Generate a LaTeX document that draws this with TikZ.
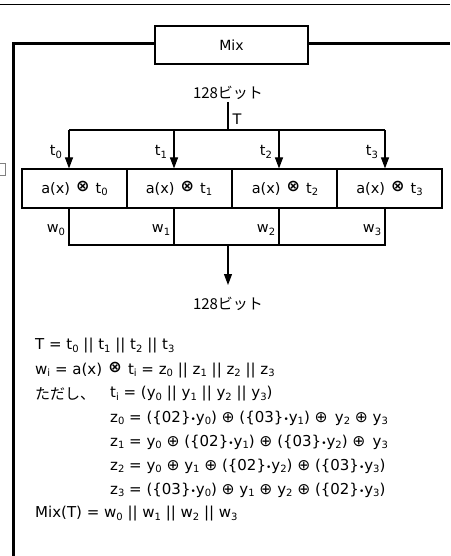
\documentclass[tikz,border=0pt]{standalone}
\usepackage{fontspec}
\setmainfont{DejaVu Sans}
\newfontfamily\jp{Noto Sans CJK JP}
\newfontfamily\symf{DejaVu Sans}
\usetikzlibrary{arrows.meta}
\newcommand\mysub[1]{\raisebox{-0.3ex}{\fontsize{10}{10}\selectfont #1}}
\newcommand\otm{\hspace{1.5pt}\raisebox{2pt}{\symf\bfseries\fontsize{16}{16}\selectfont ⊗}\hspace{1.5pt}}
\newcommand\opl{{\symf\fontsize{15.5}{16}\selectfont ⊕}}
\newcommand\mdot{{\fontsize{9}{9}\selectfont •}}
\tikzset{
  frame/.style={line width=3pt},
  thin/.style={line width=1.1pt},
  boxn/.style={draw, line width=1.1pt, minimum height=39pt, inner sep=0pt, font=\fontsize{14.5}{16}\selectfont},
  arr/.style={line width=1.1pt, -{Triangle[width=8pt,length=11pt]}},
  lbl/.style={inner sep=0pt, font=\fontsize{14.5}{16}\selectfont},
  jlbl/.style={inner sep=0pt, font=\jp\fontsize{15}{16}\selectfont},
  txt/.style={inner sep=0pt, anchor=west, font=\fontsize{15}{16}\selectfont},
}
\begin{document}
\begin{tikzpicture}[x=1pt,y=-1pt]
\useasboundingbox (0,0) rectangle (450,556);
% top thin rule
\coordinate (tl) at (0,4.5);
\coordinate (tr) at (450,4.5);
\draw[thin] (tl) -- (tr);
% left fragment
\draw[line width=0.8pt, gray] (0,163.5) -- (5.5,163.5) -- (5.5,175.5) -- (0,175.5);
% Mix box and frame
\node[boxn, minimum width=153pt, minimum height=38pt, font=\fontsize{14}{16}\selectfont] (mix) at (231.5,45) {Mix};
\coordinate (fl) at (13,556);
\coordinate (fc) at (13,43.5);
\coordinate (fr) at (450,43.5);
\draw[frame] (fl) -- (fc) -- (fc -| mix.west);
\draw[frame] (fr -| mix.east) -- (fr);
% input
\node[jlbl] (in) at (228,93) {128ビット};
\coordinate (bus) at (228,130);
\coordinate (ins) at (228,102);
\draw[thin] (ins) -- (bus);
\node[lbl] (T) at (237,119) {T};
% boxes
\node[boxn, minimum width=105pt] (b0) at (74.5,188.5) {a(x) \otm{} t\mysub{0}};
\node[boxn, minimum width=105pt] (b1) at (179,188.5) {a(x) \otm{} t\mysub{1}};
\node[boxn, minimum width=105pt] (b2) at (285,188.5) {a(x) \otm{} t\mysub{2}};
\node[boxn, minimum width=105pt] (b3) at (389.5,188.5) {a(x) \otm{} t\mysub{3}};
% bus and arrows
\coordinate (a0) at (69,130);
\coordinate (a1) at (174,130);
\coordinate (a2) at (279,130);
\coordinate (a3) at (385,130);
\draw[thin] (a0) -- (a3);
\draw[arr] (a0) -- (a0 |- b0.north);
\draw[arr] (a1) -- (a1 |- b1.north);
\draw[arr] (a2) -- (a2 |- b2.north);
\draw[arr] (a3) -- (a3 |- b3.north);
\node[lbl] (t0) at (56,152) {t\mysub{0}};
\node[lbl] (t1) at (161,152) {t\mysub{1}};
\node[lbl] (t2) at (266,152) {t\mysub{2}};
\node[lbl] (t3) at (372,152) {t\mysub{3}};
% outputs
\coordinate (m0) at (69,245);
\coordinate (m1) at (174,245);
\coordinate (m2) at (279,245);
\coordinate (m3) at (385,245);
\draw[thin] (a0 |- b0.south) -- (m0) -- (m3) -- (a3 |- b3.south);
\draw[thin] (a1 |- b1.south) -- (m1);
\draw[thin] (a2 |- b2.south) -- (m2);
\node[lbl] (w0) at (56,230) {w\mysub{0}};
\node[lbl] (w1) at (161,230) {w\mysub{1}};
\node[lbl] (w2) at (266,230) {w\mysub{2}};
\node[lbl] (w3) at (372,230) {w\mysub{3}};
\coordinate (mo) at (228,245);
\coordinate (oe) at (228,285);
\node[jlbl] (out) at (228,304) {128ビット};
\draw[arr] (mo) -- (oe);
% equations
\node[txt] (e1) at (35,346) {T = t\mysub{0} || t\mysub{1} || t\mysub{2} || t\mysub{3}};
\node[txt] (e2) at (35,370) {w\mysub{i} = a(x) \otm{} t\mysub{i} = z\mysub{0} || z\mysub{1} || z\mysub{2} || z\mysub{3}};
\node[txt, font=\jp\fontsize{15}{16}\selectfont] (e3) at (35,394) {ただし、};
\node[txt] (e3b) at (110,394) {t\mysub{i} = (y\mysub{0} || y\mysub{1} || y\mysub{2} || y\mysub{3})};
\node[txt] (e4) at (110,418) {z\mysub{0} = (\{02\}\mdot y\mysub{0}) \opl{} (\{03\}\mdot y\mysub{1}) \opl{}\, y\mysub{2} \opl{} y\mysub{3}};
\node[txt] (e5) at (110,442) {z\mysub{1} = y\mysub{0} \opl{} (\{02\}\mdot y\mysub{1}) \opl{} (\{03\}\mdot y\mysub{2}) \opl{}\, y\mysub{3}};
\node[txt] (e6) at (110,466) {z\mysub{2} = y\mysub{0} \opl{} y\mysub{1} \opl{} (\{02\}\mdot y\mysub{2}) \opl{} (\{03\}\mdot y\mysub{3})};
\node[txt] (e7) at (110,490) {z\mysub{3} = (\{03\}\mdot y\mysub{0}) \opl{} y\mysub{1} \opl{} y\mysub{2} \opl{} (\{02\}\mdot y\mysub{3})};
\node[txt] (e8) at (35,514) {Mix(T) = w\mysub{0} || w\mysub{1} || w\mysub{2} || w\mysub{3}};
\end{tikzpicture}
\end{document}
